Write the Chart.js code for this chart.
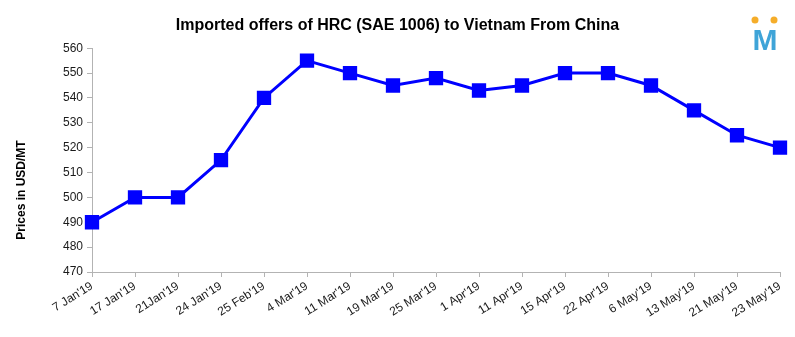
<!DOCTYPE html>
<html><head><meta charset="utf-8">
<script src="https://cdn.jsdelivr.net/npm/chart.js@4/dist/chart.umd.min.js"></script>
<style>html,body{margin:0;padding:0;background:#fff}#wrap{width:795px;height:337px}</style>
</head><body><div id="wrap"><canvas id="c" width="795" height="337"></canvas></div>
<script>
const categories = ["7 Jan'19","17 Jan'19","21Jan'19","24 Jan'19","25 Feb'19","4 Mar'19","11 Mar'19","19 Mar'19","25 Mar'19","1 Apr'19","11 Apr'19","15 Apr'19","22 Apr'19","6 May'19","13 May'19","21 May'19","23 May'19"];
const prices = [490,500,500,515,540,555,550,545,548,543,545,550,550,545,535,525,520];
const yTicks = {min:470, max:560, step:10};
const titleText = "Imported offers of HRC (SAE 1006) to Vietnam From China";
const yTitle = "Prices in USD/MT";
const FONT = '"Liberation Sans", Arial, sans-serif';

const extras = {
  id:'extras',
  afterDraw(chart){
    const ctx = chart.ctx;
    ctx.save();
    // y axis title
    ctx.fillStyle = '#000';
    ctx.font = 'bold 12px ' + FONT;
    ctx.textAlign = 'center'; ctx.textBaseline = 'middle';
    ctx.translate(22, 190); ctx.rotate(-Math.PI/2);
    ctx.fillText(yTitle, 0, 0);
    ctx.restore();
    ctx.save();
    ctx.fillStyle = '#f5ad2a';
    ctx.beginPath(); ctx.arc(755,20,3.5,0,Math.PI*2); ctx.fill();
    ctx.beginPath(); ctx.arc(774,20,3.5,0,Math.PI*2); ctx.fill();
    ctx.fillStyle = '#3fa4d8';
    ctx.font = 'bold 30px ' + FONT;
    ctx.textAlign = 'center'; ctx.textBaseline = 'alphabetic';
    ctx.fillText('M', 765, 50);
    ctx.restore();
  }
};

new Chart(document.getElementById('c'), {
  type:'line',
  data:{labels:categories, datasets:[{data:prices, borderColor:'#0000ff', backgroundColor:'#0000ff', borderWidth:3, pointStyle:'rect', pointRadius:8, pointHoverRadius:8, tension:0}]},
  options:{
    responsive:false, animation:false, devicePixelRatio:1,
    layout:{padding:{left:0,right:0,top:0,bottom:0}},
    plugins:{legend:{display:false}, tooltip:{enabled:false},
      title:{display:true, text:titleText, color:'#000', font:{family:FONT, size:16, weight:'bold'}, padding:{top:16,bottom:13}}},
    scales:{
      x:{offset:false, grid:{display:true, drawOnChartArea:false, color:'#b3b3b3', tickLength:5, tickColor:'#b3b3b3'}, border:{color:'#b3b3b3'},
        ticks:{color:'#1a1a1a', font:{family:FONT, size:12}, minRotation:32, maxRotation:32, autoSkip:false, padding:2},
        afterFit(s){s.height = 65;}},
      y:{min:yTicks.min, max:yTicks.max, grid:{display:true, drawOnChartArea:false, color:'#b3b3b3', tickLength:5, tickColor:'#b3b3b3'}, border:{color:'#b3b3b3'},
        ticks:{stepSize:yTicks.step, color:'#1a1a1a', font:{family:FONT, size:12}, padding:4},
        afterFit(s){s.width = 92;}},
      yPad:{position:'right', display:true, grid:{display:false}, border:{display:false}, ticks:{display:false},
        afterFit(s){s.width = 15;}}
    }
  },
  plugins:[extras]
});
</script></body></html>
